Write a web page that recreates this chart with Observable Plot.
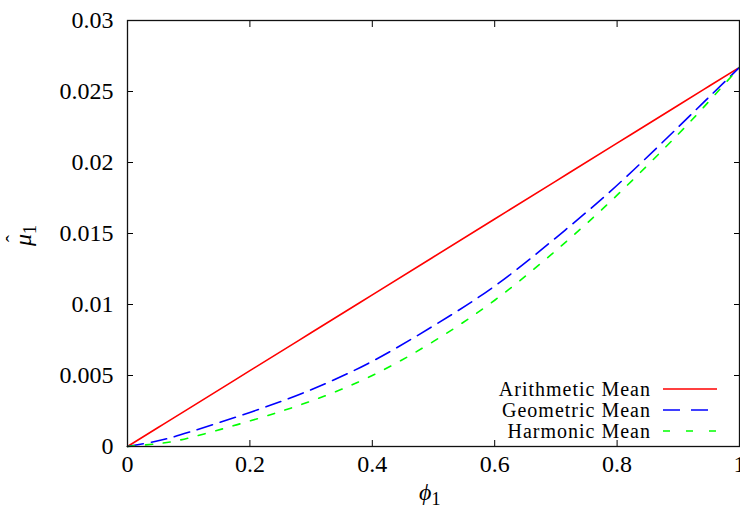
<!DOCTYPE html>
<html>
<head>
<meta charset="utf-8">
<script src="https://cdn.jsdelivr.net/npm/d3@7"></script>
<script src="https://cdn.jsdelivr.net/npm/@observablehq/plot@0.6"></script>
<style>
  html, body { margin: 0; padding: 0; background: white; }
  #wrap { position: relative; width: 740px; height: 510px; overflow: hidden; font-family: "Liberation Serif", "Tinos", "Times New Roman", "DejaVu Serif", serif; }
  .ov { position: absolute; font-size: 24px; line-height: 24px; color: black; white-space: nowrap; }
  .leg { position: absolute; right: 89px; font-size: 20px; letter-spacing: 1px; line-height: 16px; height: 16px; text-align: right; white-space: nowrap; }
  sub { font-size: 0.75em; vertical-align: -0.25em; font-style: normal; }
  .hat { position: relative; display: inline-block; font-style: italic; }
  .hat span { position: absolute; left: 0.18em; top: -0.42em; font-style: normal; font-size: 0.9em; }
</style>
</head>
<body>
<div id="wrap"></div>
<script>
// ---- data ----
const phi   = [0, 0.05, 0.1, 0.2, 0.3, 0.4, 0.5, 0.6, 0.7, 0.8, 0.9, 0.95, 1];
const arith = [0, 0.00134, 0.00267, 0.00534, 0.00801, 0.01068, 0.01335, 0.01602, 0.01869, 0.02136, 0.02403, 0.02537, 0.0267];
const geo   = [0, 0.0004, 0.0010, 0.0024, 0.0040, 0.0060, 0.0085, 0.0113, 0.0147, 0.0184, 0.0225, 0.0246, 0.0267];
const harm  = [0, 0.0002, 0.0006, 0.0018, 0.0032, 0.0050, 0.0074, 0.0103, 0.0138, 0.0177, 0.0220, 0.0243, 0.0267];
const seriesNames = ["Arithmetic Mean", "Geometric Mean", "Harmonic Mean"];
const seriesColors = ["#ff0000", "#0000ff", "#00ff00"];
const seriesDash = [null, "16,8", "7,11"];
const legendDash = [null, "17,11", "7,16"];
const xTicks = [0, 0.2, 0.4, 0.6, 0.8, 1];
const yTicks = [0, 0.005, 0.01, 0.015, 0.02, 0.025, 0.03];
const xTickLabels = ["0", "0.2", "0.4", "0.6", "0.8", "1"];
const yTickLabels = ["0", "0.005", "0.01", "0.015", "0.02", "0.025", "0.03"];

const allSeries = [arith, geo, harm];
const rows = [];
allSeries.forEach((vals, s) => phi.forEach((p, i) => rows.push({phi: p, mu: vals[i], s})));

const lineMarks = allSeries.map((vals, s) =>
  Plot.line(rows.filter(r => r.s === s), {
    x: "phi", y: "mu", curve: "natural",
    stroke: seriesColors[s], strokeWidth: 1.6,
    strokeDasharray: seriesDash[s] || undefined
  })
);

const FONT = "'Liberation Serif', 'Tinos', 'Times New Roman', 'DejaVu Serif', serif";

const chart = Plot.plot({
  width: 740,
  height: 510,
  marginLeft: 127,
  marginRight: 1,
  marginTop: 20,
  marginBottom: 64,
  style: { fontFamily: FONT, fontSize: "24px", background: "white", overflow: "hidden" },
  x: { domain: [0, 1] },
  y: { domain: [0, 0.03] },
  marks: [
    // inward ticks on all four sides
    Plot.axisY(yTicks, { anchor: "left", tickSize: 6, dx: 6, text: null, label: null }),
    Plot.axisY(yTicks, { anchor: "right", tickSize: 6, dx: -6, text: null, label: null }),
    Plot.axisX(xTicks, { anchor: "bottom", tickSize: 6, dy: -6, text: null, label: null }),
    Plot.axisX(xTicks, { anchor: "top", tickSize: 6, dy: 6, text: null, label: null }),
    // tick labels
    Plot.axisY(yTicks, { anchor: "left", tickSize: 0, tickPadding: 14, tickFormat: (d, i) => yTickLabels[i], label: null, fontFamily: FONT }),
    Plot.axisX(xTicks, { anchor: "bottom", tickSize: 0, tickPadding: 8, tickFormat: (d, i) => xTickLabels[i], label: null, fontFamily: FONT }),
    ...lineMarks,
    Plot.frame({ stroke: "#111", strokeWidth: 1.3 })
  ]
});

const wrap = document.getElementById("wrap");
wrap.appendChild(chart);

// axis titles
const xl = document.createElement("div");
xl.className = "ov";
xl.style.left = "419px"; xl.style.top = "480px";
xl.innerHTML = "<i>ϕ</i><sub>1</sub>";
wrap.appendChild(xl);

const yl = document.createElement("div");
yl.className = "ov";
yl.style.left = "9px"; yl.style.top = "220px";
yl.style.transform = "rotate(-90deg)";
yl.style.transformOrigin = "14px 12px";
yl.innerHTML = "<span class='hat'>μ<span>ˆ</span></span><sub>1</sub>";
wrap.appendChild(yl);

// legend
const legY = [389, 410, 431];
seriesNames.forEach((name, s) => {
  const t = document.createElement("div");
  t.className = "leg";
  t.style.top = (legY[s] - 8) + "px";
  t.textContent = name;
  wrap.appendChild(t);
});
const ns = "http://www.w3.org/2000/svg";
const lsvg = document.createElementNS(ns, "svg");
lsvg.setAttribute("width", "60");
lsvg.setAttribute("height", "64");
lsvg.style.position = "absolute";
lsvg.style.left = "663px";
lsvg.style.top = "375px";
seriesNames.forEach((name, s) => {
  const l = document.createElementNS(ns, "line");
  l.setAttribute("x1", 0); l.setAttribute("x2", 54);
  l.setAttribute("y1", legY[s] - 375); l.setAttribute("y2", legY[s] - 375);
  l.setAttribute("stroke", seriesColors[s]);
  l.setAttribute("stroke-width", 1.6);
  if (legendDash[s]) l.setAttribute("stroke-dasharray", legendDash[s]);
  lsvg.appendChild(l);
});
wrap.appendChild(lsvg);
</script>
</body>
</html>
